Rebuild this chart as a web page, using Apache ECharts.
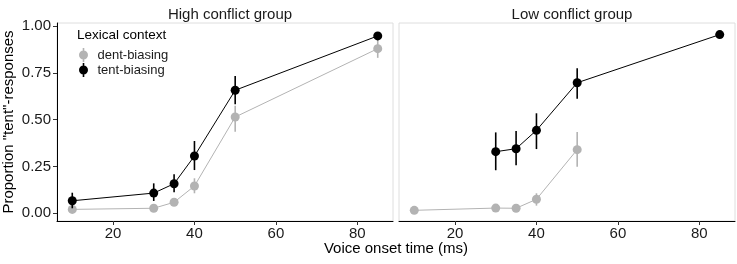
<!DOCTYPE html>
<html><head><meta charset="utf-8">
<script src="https://cdn.jsdelivr.net/npm/echarts@6/dist/echarts.min.js"></script>
<style>html,body{margin:0;padding:0;background:#fff}#c{width:737px;height:264px}</style>
</head><body><div id="c"></div>
<script>
const vot = [10, 30, 35, 40, 50, 85];
const xTicks = [20, 40, 60, 80];
const yTicks = [0, 0.25, 0.5, 0.75, 1];
const panelTitles = ['High conflict group', 'Low conflict group'];
// High conflict
const highDent   = [0.021, 0.027, 0.059, 0.146, 0.514, 0.879];
const highDentLo = [0.008, 0.015, 0.040, 0.107, 0.436, 0.830];
const highDentHi = [0.035, 0.040, 0.080, 0.187, 0.574, 0.925];
const highTent   = [0.067, 0.108, 0.158, 0.306, 0.657, 0.947];
const highTentLo = [0.027, 0.066, 0.112, 0.231, 0.582, 0.930];
const highTentHi = [0.110, 0.160, 0.208, 0.386, 0.733, 0.965];
// Low conflict
const lowDent   = [0.016, 0.028, 0.027, 0.075, 0.340, null];
const lowDentLo = [0.006, 0.016, 0.016, 0.041, 0.249, null];
const lowDentHi = [0.026, 0.040, 0.038, 0.107, 0.434, null];
const lowTent   = [null, 0.329, 0.345, 0.443, 0.697, 0.954];
const lowTentLo = [null, 0.230, 0.256, 0.343, 0.612, 0.942];
const lowTentHi = [null, 0.432, 0.440, 0.534, 0.774, 0.966];

const GRAY = '#b3b3b3', BLACK = '#000000';
const FONT = 'Liberation Sans';

function pts(v){ return vot.map((x,i)=> v[i]==null ? null : [x, v[i]]).filter(d=>d); }
function errs(v, lo, hi){ return vot.map((x,i)=> v[i]==null ? null : [x, lo[i], hi[i]]).filter(d=>d); }

function lineSeries(name, vals, color, idx){
  return {name, type:'line', xAxisIndex:idx, yAxisIndex:idx, data: pts(vals),
    symbol:'circle', symbolSize:9, showSymbol:true,
    lineStyle:{color, width:1}, itemStyle:{color}, z: color===BLACK?4:3, silent:true, animation:false};
}
function errSeries(name, vals, lo, hi, color, idx){
  return {name, type:'custom', xAxisIndex:idx, yAxisIndex:idx, data: errs(vals, lo, hi),
    encode:{x:0, y:[1,2]}, z: color===BLACK?5:3, silent:true, animation:false,
    renderItem:(params, api)=>{
      const a = api.coord([api.value(0), api.value(1)]);
      const b = api.coord([api.value(0), api.value(2)]);
      return {type:'line', shape:{x1:a[0], y1:a[1], x2:b[0], y2:b[1]},
        style:{stroke: color, lineWidth:1.6}};
    }};
}

const grids = [
  {left:57, width:336, top:23, height:198, show:true, borderColor:'#dedede', borderWidth:1},
  {left:399, width:336, top:23, height:198, show:true, borderColor:'#dedede', borderWidth:1}
];

function xAxis(idx){
  return {type:'value', gridIndex:idx, min:6.25, max:88.75,
    splitLine:{show:false},
    axisLine:{show:true, onZero:false, lineStyle:{color:'#000', width:1}},
    axisTick:{show:true, length:4, lineStyle:{color:'#333'}, customValues: xTicks},
    axisLabel:{show:true, customValues: xTicks, color:'#1a1a1a', fontSize:15, fontFamily:FONT, margin:5}};
}
function yAxis(idx){
  return {type:'value', gridIndex:idx, min:-0.041, max:1.016,
    splitLine:{show:false},
    axisLine:{show: idx===0, onZero:false, lineStyle:{color:'#000', width:1}},
    axisTick:{show: idx===0, length:4, lineStyle:{color:'#333'}, customValues: yTicks},
    axisLabel:{show: idx===0, customValues: yTicks, formatter:v=>v.toFixed(2),
      color:'#1a1a1a', fontSize:15, fontFamily:FONT, margin:6},
    name: idx===0 ? 'Proportion "tent"-responses' : '',
    nameLocation:'middle', nameGap:41,
    nameTextStyle:{color:'#000', fontSize:15, fontFamily:FONT}};
}

const legendIcon = 'path://M4.2,0h1.6v14h-1.6z M5,2.5a4.5,4.5 0 1,1 0,9a4.5,4.5 0 1,1 0,-9z';

const option = {
  animation:false,
  textStyle:{fontFamily:FONT},
  title: [
    {text: panelTitles[0], left:225, top:2, textAlign:'center',
     textStyle:{fontSize:15, fontWeight:'normal', color:'#1a1a1a', fontFamily:FONT}},
    {text: panelTitles[1], left:567, top:2, textAlign:'center',
     textStyle:{fontSize:15, fontWeight:'normal', color:'#1a1a1a', fontFamily:FONT}}
  ],
  legend: {
    orient:'vertical', left:79, top:48, padding:0, itemWidth:10, itemHeight:14, itemGap:1,
    selectedMode:false,
    textStyle:{fontSize:13, color:'#1a1a1a', fontFamily:FONT, padding:[0,0,0,4]},
    data:[
      {name:'dent-biasing', icon: legendIcon, itemStyle:{color:GRAY}},
      {name:'tent-biasing', icon: legendIcon, itemStyle:{color:BLACK}}
    ]
  },
  graphic: [
    {type:'text', x:77, y:35, style:{text:'Lexical context', fontSize:13.5, fill:'#000', fontFamily:FONT, textVerticalAlign:'middle'}},
    {type:'text', x:396, y:249, style:{text:'Voice onset time (ms)', fontSize:15, fill:'#000', fontFamily:FONT, textAlign:'center', textVerticalAlign:'middle'}}
  ],
  grid: grids,
  xAxis: [xAxis(0), xAxis(1)],
  yAxis: [yAxis(0), yAxis(1)],
  series: [
    lineSeries('dent-biasing', highDent, GRAY, 0),
    errSeries('dent-biasing', highDent, highDentLo, highDentHi, GRAY, 0),
    lineSeries('tent-biasing', highTent, BLACK, 0),
    errSeries('tent-biasing', highTent, highTentLo, highTentHi, BLACK, 0),
    lineSeries('dent-biasing', lowDent, GRAY, 1),
    errSeries('dent-biasing', lowDent, lowDentLo, lowDentHi, GRAY, 1),
    lineSeries('tent-biasing', lowTent, BLACK, 1),
    errSeries('tent-biasing', lowTent, lowTentLo, lowTentHi, BLACK, 1)
  ]
};
const chart = echarts.init(document.getElementById('c'), null, {renderer:'canvas'});
chart.setOption(option);
</script></body></html>
